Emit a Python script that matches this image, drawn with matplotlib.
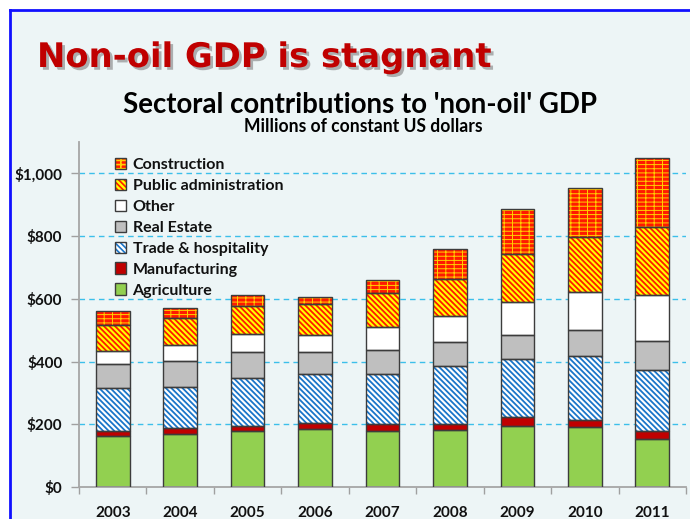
import matplotlib
matplotlib.use("Agg")
import matplotlib.pyplot as plt
import numpy as np
from matplotlib.patches import Patch, Rectangle
from matplotlib.lines import Line2D
from matplotlib.legend_handler import HandlerTuple
from matplotlib.ticker import FuncFormatter, FixedLocator
import matplotlib.patheffects as pe

# ---------------- data ----------------
years = ['2003', '2004', '2005', '2006', '2007', '2008', '2009', '2010', '2011']
agriculture = [163, 169, 177, 184, 179, 181, 195, 190, 152]
manufacturing = [16, 19, 17, 19, 22, 20, 27, 25, 27]
trade = [136, 131, 155, 158, 159, 185, 186, 202, 195]
real_estate = [77, 82, 81, 68, 77, 75, 77, 84, 91]
other = [43, 51, 57, 55, 73, 84, 104, 120, 146]
public_admin = [82, 87, 91, 100, 109, 118, 155, 176, 218]
construction = [43, 31, 33, 22, 42, 96, 142, 155, 219]

series_names = ['Agriculture', 'Manufacturing', 'Trade & hospitality', 'Real Estate',
                'Other', 'Public administration', 'Construction']
series_values = [agriculture, manufacturing, trade, real_estate, other, public_admin, construction]
y_ticks = [0, 200, 400, 600, 800, 1000]

# styles: (face, hatch, hatch colour, hatch linewidth)
diag = '\\' * 6
styles = [
    ('#92d050', None, None, None),
    ('#c00000', None, None, None),
    ('#ffffff', diag, '#1a75c9', 1.3),
    ('#bfbfbf', None, None, None),
    ('#ffffff', None, None, None),
    ('#ffff00', diag, '#ff1a00', 1.3),
    ('#ff1a00', '----||', '#ffd000', 0.7),
]
outline = '#3c3c3c'

W, H = 690, 519
fig = plt.figure(figsize=(W / 100, H / 100), dpi=100)
fig.patch.set_facecolor('white')

# slide background + blue frame
fig.patches.append(Rectangle((10 / W, 0), 1, 1 - 10 / H, transform=fig.transFigure,
                             facecolor='#edf5f6', edgecolor='none', zorder=-10))
fig.lines.append(Line2D([10 / W, 10 / W], [0, 1 - 10 / H], transform=fig.transFigure,
                        color='#1010ff', lw=2))
fig.lines.append(Line2D([10 / W, 1], [1 - 10 / H, 1 - 10 / H], transform=fig.transFigure,
                        color='#1010ff', lw=2))

ax = fig.add_axes([79 / W, (H - 487) / H, (686 - 79) / W, (487 - 142) / H])
ax.set_facecolor('none')


def set_hlw(p, lw):
    if lw is not None and hasattr(p, 'set_hatch_linewidth'):
        try:
            p.set_hatch_linewidth(lw)
        except Exception:
            pass


x = np.arange(len(years))
bottom = np.zeros(len(years))
handles = []
for name, vals, (fc, hatch, hc, hlw) in zip(series_names, series_values, styles):
    vals = np.array(vals, dtype=float)
    with plt.rc_context({'hatch.linewidth': hlw if hlw else 1.0}):
        if hatch:
            bars = ax.bar(x, vals, 0.5, bottom=bottom, color=fc, hatch=hatch, edgecolor=hc,
                          linewidth=0, zorder=2)
            for p in bars:
                set_hlw(p, hlw)
            h1 = Patch(facecolor=fc, hatch=hatch, edgecolor=hc, linewidth=0)
            set_hlw(h1, hlw)
        else:
            ax.bar(x, vals, 0.5, bottom=bottom, color=fc, linewidth=0, zorder=2)
            h1 = Patch(facecolor=fc, linewidth=0)
    ax.bar(x, vals, 0.5, bottom=bottom, fill=False, edgecolor=outline, linewidth=1.0, zorder=3)
    bottom += vals
    h2 = Patch(fill=False, edgecolor=outline, linewidth=1.0)
    handles.append((h1, h2))

plt.rcParams['hatch.linewidth'] = 1.2

ax.set_xlim(-0.5, len(years) - 0.5)
ax.set_ylim(0, 1100)
ax.yaxis.set_major_locator(FixedLocator(y_ticks))
ax.yaxis.set_major_formatter(FuncFormatter(lambda v, p: '${:,.0f}'.format(v)))
ax.set_xticks(x)
ax.set_xticklabels(years)
ax.set_xticks(np.arange(len(years) + 1) - 0.5, minor=True)
ax.tick_params(axis='x', which='major', length=0, pad=14)
ax.tick_params(axis='x', which='minor', length=5, color='#a0a0a0', width=1, direction='out')
ax.tick_params(axis='y', which='major', length=6, color='#a0a0a0', width=1, pad=6, direction='out')
for lab in ax.get_xticklabels() + ax.get_yticklabels():
    lab.set_fontfamily('Lato')
    lab.set_fontweight('bold')
    lab.set_fontsize(11)
    lab.set_color('#111111')

for s in ['top', 'right']:
    ax.spines[s].set_visible(False)
ax.spines['left'].set_color('#a6a6a6')
ax.spines['left'].set_linewidth(1.3)
ax.spines['bottom'].set_color('#a6a6a6')
ax.spines['bottom'].set_linewidth(1.3)

for v in y_ticks[1:]:
    ax.axhline(v, color='#3cbfea', lw=1.0, ls=(0, (4, 3)), zorder=1)

leg = ax.legend(handles[::-1], series_names[::-1], handler_map={tuple: HandlerTuple(ndivide=1)},
                loc='upper left', bbox_to_anchor=((115 - 79) / 607, (487 - 158) / 345),
                frameon=False, handlelength=0.7, handleheight=0.7,
                handletextpad=0.4, labelspacing=0.42, borderpad=0, borderaxespad=0,
                prop={'family': 'Lato', 'weight': 'bold', 'size': 11.5})
for t in leg.get_texts():
    t.set_color('#111111')

# titles
renderer = fig.canvas.get_renderer()

def fit(txt, target_w):
    w = txt.get_window_extent(renderer).width
    txt.set_fontsize(txt.get_fontsize() * target_w / w)

t1 = fig.text(37 / W, 1 - 67 / H, 'Non-oil GDP is stagnant', fontsize=24, fontweight='bold',
              family='DejaVu Sans', color='#c00000', ha='left', va='baseline',
              path_effects=[pe.withSimplePatchShadow(offset=(2, -2), shadow_rgbFace='#808080', alpha=0.6)])
fit(t1, 492 - 37)
t2 = fig.text(360 / W, 1 - 113 / H, "Sectoral contributions to 'non-oil' GDP", fontsize=18,
              fontweight='bold', family='Lato', color='#000000', ha='center', va='baseline')
fit(t2, 598 - 122)
t3 = fig.text(363 / W, 1 - 132 / H, 'Millions of constant US dollars', fontsize=11,
              fontweight='bold', family='Lato', color='#000000', ha='center', va='baseline')
fit(t3, 482 - 244)

fig.savefig('out.png', dpi=100, facecolor=fig.get_facecolor())
